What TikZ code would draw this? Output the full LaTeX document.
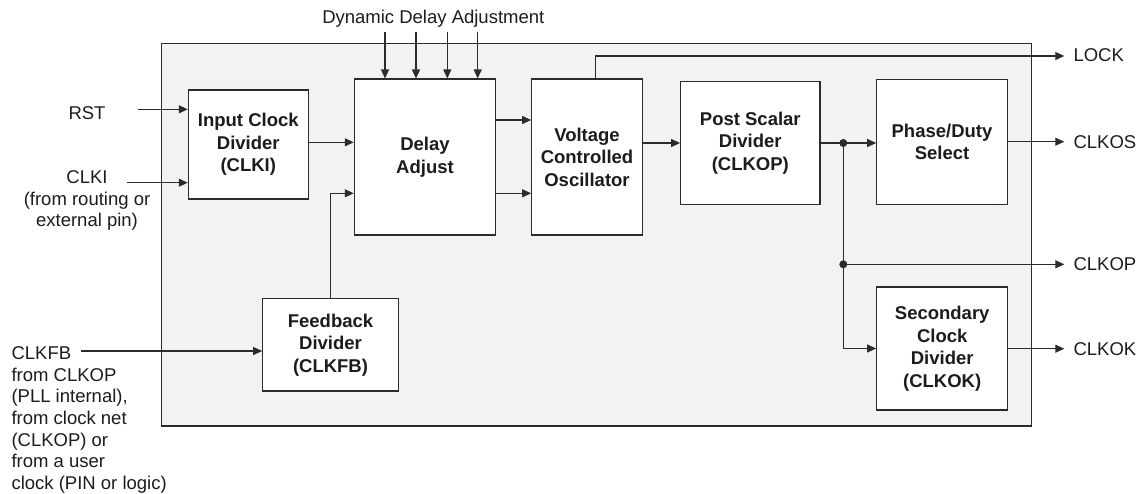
\documentclass[tikz,border=0pt]{standalone}
\usepackage{fontspec}
\setmainfont{Liberation Sans}
\usetikzlibrary{arrows.meta}
\definecolor{pllline}{RGB}{45,42,44}
\definecolor{plltext}{RGB}{30,27,28}
\definecolor{pllgray}{RGB}{241,242,244}

\begin{document}
\begin{tikzpicture}[x=1pt,y=-1pt,
		line width=1.1pt, draw=pllline, text=plltext,
		txt/.style = {inner sep=0pt, font=\fontsize{18.5}{21.6}\selectfont},
		blk/.style = {draw, fill=white, inner sep=0pt, align=center,
			font=\fontsize{18.5}{22.5}\selectfont\bfseries},
		arr/.style = {-{Triangle[length=9pt,width=8pt]}},
		junc/.style = {circle, fill=pllline, inner sep=0pt, minimum size=8pt}]
	\useasboundingbox (0,0) rectangle (1141,493);
	% PLL outline
	\draw[fill=pllgray] (161.7,43.3) rectangle (1031.7,426);
	% blocks
	\node[blk, minimum width=120pt, minimum height=109pt] (icd) at (248.3,144.5) {Input Clock\\Divider\\(CLKI)};
	\node[blk, minimum width=141.4pt, minimum height=156pt] (dly) at (425,157) {Delay\\Adjust};
	\node[blk, minimum width=110.6pt, minimum height=156pt] (vco) at (587,157) {Voltage\\Controlled\\Oscillator};
	\node[blk, minimum width=139.3pt, minimum height=122.6pt] (psd) at (750.3,143) {Post Scalar\\Divider\\(CLKOP)};
	\node[blk, minimum width=130.6pt, minimum height=125.3pt] (pds) at (942,141.7) {Phase/Duty\\Select};
	\node[blk, minimum width=135.6pt, minimum height=92.3pt] (fbd) at (330.5,344.8) {Feedback\\Divider\\(CLKFB)};
	\node[blk, minimum width=131pt, minimum height=123pt] (scd) at (942.2,348.5) {Secondary\\Clock\\Divider\\(CLKOK)};
	% inputs
	\node[txt] (rst) at (87,112.7) {RST};
	\node[txt, align=center, anchor=north] (clki) at (87,170) {CLKI\\(from routing or\\external pin)};
	\node[txt, align=left, anchor=north west] (clkfb) at (11,346.2) {CLKFB\\from CLKOP\\(PLL internal),\\from clock net\\(CLKOP) or\\from a user\\clock (PIN or logic)};
	\node[txt] (dda) at (433.3,18.3) {Dynamic Delay Adjustment};
	\coordinate (rstin) at (138,109.3);
	\coordinate (clkiin) at (126.7,182.7);
	\coordinate (fbin) at (81,351);
	\draw[arr] (rstin) -- (rstin -| icd.west);
	\draw[arr] (clkiin) -- (clkiin -| icd.west);
	\draw[arr] (fbin) -- (fbin -| fbd.west);
	\foreach \x [count=\i] in {385,416,447.3,477.7} {
		\coordinate (dd\i) at (\x,32.3);
		\draw[arr] (dd\i) -- (dd\i |- dly.north);
	}
	% internal paths
	\draw[arr] (icd.east |- 0,142.3) -- (dly.west |- 0,142.3);
	\draw[arr] (dly.east |- 0,120) -- (vco.west |- 0,120);
	\draw[arr] (dly.east |- 0,193.3) -- (vco.west |- 0,193.3);
	\draw[arr] (fbd.north) |- (dly.west |- 0,193.3);
	\draw[arr] (vco.east |- psd.west) -- (psd.west);
	\node[junc] (j1) at (843.3,143) {};
	\node[junc] (j2) at (843.3,264.3) {};
	\draw (psd.east) -- (j1.center);
	\draw[arr] (j1.center) -- (j1 -| pds.west);
	\draw[arr] (j1.center) |- (scd.west);
	% outputs
	\node[txt, anchor=west] (lock) at (1073,55.5) {LOCK};
	\node[txt, anchor=west] (clkos) at (1073,141.7) {CLKOS};
	\node[txt, anchor=west] (clkop) at (1073,264.3) {CLKOP};
	\node[txt, anchor=west] (clkok) at (1073,348.7) {CLKOK};
	\draw[arr] ([xshift=8.7pt]vco.north) |- ([xshift=-8.7pt]lock.west |- 0,56);
	\draw[arr] (pds.east |- clkos.west) -- ([xshift=-8.7pt]clkos.west);
	\draw[arr] (j2.center) -- ([xshift=-8.7pt]clkop.west);
	\draw[arr] (scd.east |- clkok.west) -- ([xshift=-8.7pt]clkok.west);
\end{tikzpicture}
\end{document}
